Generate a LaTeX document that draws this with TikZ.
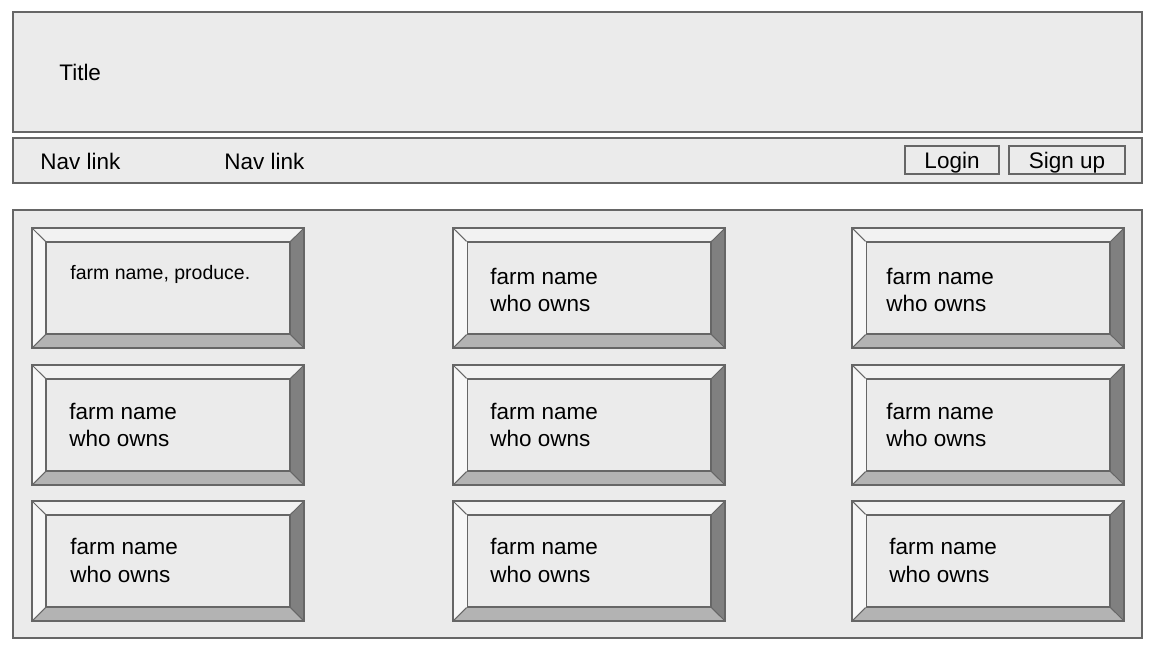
\documentclass[tikz,border=0pt]{standalone}
\usepackage{fontspec}
\setmainfont{Liberation Sans}
\definecolor{panelfill}{HTML}{EBEBEB}
\definecolor{panelline}{HTML}{666666}
\definecolor{bevtop}{HTML}{F2F2F2}
\definecolor{bevleft}{HTML}{F7F7F7}
\definecolor{bevright}{HTML}{808080}
\definecolor{bevbottom}{HTML}{B3B3B3}
\newcommand{\wirefont}{\fontsize{12.8}{15.9}\selectfont}

\begin{document}
\begin{tikzpicture}[x=0.02cm,y=-0.02cm,
	panel/.style={draw=panelline,fill=panelfill,line width=0.6pt},
	btnbox/.style={draw=panelline,fill=panelfill,line width=0.6pt,inner sep=0pt,
		text depth=0pt,font=\wirefont},
	cardin/.style={draw=panelline,fill=panelfill,line width=0.6pt,inner sep=0pt,
		minimum width=4.88cm,minimum height=1.84cm},
	cardline/.style={draw=panelline,line width=0.6pt},
	cardtext/.style={anchor=west,inner sep=0pt,align=left,font=\wirefont}]
	\useasboundingbox (0,0) rectangle (1167,649);
	%Header with the title
	\draw [panel] (13,12) rectangle (1142,132);
	\node [anchor=west,inner sep=0pt,font=\wirefont] (title) at (59,72) {Title};
	%Navigation bar
	\draw [panel] (13,138) rectangle (1142,183);
	\node [anchor=west,inner sep=0pt,font=\wirefont] (nav1) at (40,161) {Nav link};
	\node [anchor=west,inner sep=0pt,font=\wirefont] (nav2) at (224,161) {Nav link};
	\node [btnbox,minimum width=1.88cm,minimum height=0.56cm] (login) at (952,160) {Login};
	\node [btnbox,minimum width=2.32cm,minimum height=0.56cm] (signup) at (1067,160) {Sign up};
	%Main area
	\draw [panel] (13,210) rectangle (1142,638);
	%Farm cards
	\foreach \cx/\cy/\cn in {32/228/a1,453/228/a2,852/228/a3,
		32/365/b1,453/365/b2,852/365/b3,32/501/c1,453/501/c2,852/501/c3}{
		\fill [bevtop] (\cx,\cy) -- ++(272,0) -- ++(-14,14) -- ++(-244,0) -- cycle;
		\fill [bevleft] (\cx,\cy) -- ++(14,14) -- ++(0,92) -- ++(-14,14) -- cycle;
		\fill [bevright] ({\cx+272},\cy) -- ++(0,120) -- ++(-14,-14) -- ++(0,-92) -- cycle;
		\fill [bevbottom] (\cx,{\cy+120}) -- ++(272,0) -- ++(-14,-14) -- ++(-244,0) -- cycle;
		\node [cardin] (\cn) at ({\cx+136},{\cy+60}) {};
		\draw [cardline] (\cx,\cy) rectangle ({\cx+272},{\cy+120});
		\draw [cardline] (\cx,\cy) -- (\cn.north west);
		\draw [cardline] ({\cx+272},\cy) -- (\cn.north east);
		\draw [cardline] (\cx,{\cy+120}) -- (\cn.south west);
		\draw [cardline] ({\cx+272},{\cy+120}) -- (\cn.south east);
	}
	%Card texts
	\node [cardtext,font=\fontsize{11.1}{13.3}\selectfont] (ta1) at (70,274) {farm name, produce.};
	\node [cardtext] (ta2) at (490,290) {farm name\\who owns};
	\node [cardtext] (ta3) at (886,290) {farm name\\who owns};
	\node [cardtext] (tb1) at (69,425) {farm name\\who owns};
	\node [cardtext] (tb2) at (490,425) {farm name\\who owns};
	\node [cardtext] (tb3) at (886,425) {farm name\\who owns};
	\node [cardtext] (tc1) at (70,560) {farm name\\who owns};
	\node [cardtext] (tc2) at (490,560) {farm name\\who owns};
	\node [cardtext] (tc3) at (889,560) {farm name\\who owns};
\end{tikzpicture}
\end{document}
